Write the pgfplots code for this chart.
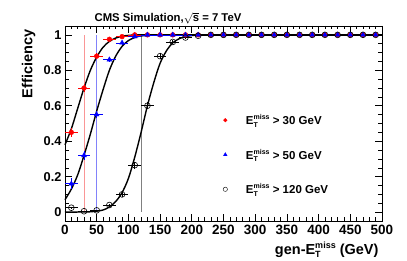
\documentclass[border=0pt]{standalone}
\usepackage{pgfplots}
\pgfplotsset{compat=1.18}
\usepackage{fontspec}
\setmainfont{Liberation Sans}
\definecolor{rootred}{RGB}{255,0,0}
\definecolor{rootblue}{RGB}{0,0,255}
\definecolor{pinkl}{RGB}{250,150,150}
\definecolor{bluel}{RGB}{130,130,250}
\newcommand{\met}[1][7]{E\rlap{\raisebox{-0.42ex}{\fontsize{#1}{#1}\selectfont T}}\raisebox{0.82ex}{\fontsize{#1}{#1}\selectfont miss}}
\begin{document}
\begin{tikzpicture}
\begin{axis}[
  scale only axis, width=317pt, height=195pt,
  xmin=0, xmax=500, ymin=-0.05, ymax=1.05,
  axis line style={line width=0.8pt},
  xtick={0,50,...,500}, minor x tick num=4,
  ytick={0,0.2,0.4,0.6,0.8,1}, yticklabels={0,0.2,0.4,0.6,0.8,1},
  minor y tick num=3,
  tick align=inside, tick pos=both,
  major tick length=7pt, minor tick length=3.5pt,
  every tick/.style={black, line width=0.6pt},
  tick label style={font=\fontsize{13.5}{14}\selectfont\bfseries},
  yticklabel style={font=\fontsize{12.8}{13}\selectfont\bfseries, xshift=0pt},
  /pgf/number format/assume math mode=true,
  xticklabel style={yshift=-1pt},
  xlabel={gen-\met[9]\ (GeV)},
  xlabel style={font=\fontsize{14.5}{15}\selectfont\bfseries, at={(axis description cs:1,0)}, anchor=north east, yshift=-17pt},
  ylabel={Efficiency},
  ylabel style={font=\fontsize{14.5}{15}\selectfont\bfseries, at={(axis description cs:0,1)}, anchor=south east, yshift=26pt},
  legend style={at={(axis cs:243,0.575)}, anchor=north west, draw=none, fill=none,
    font=\fontsize{11.5}{12}\selectfont\bfseries, row sep=19pt, cells={anchor=west}},
  legend cell align=left,
  legend image code/.code={\path (0cm,0cm) (0.75cm,0cm); \draw[#1, mark options={scale=0.75}] plot coordinates {(0.1cm,0cm)};},
  clip=false,
]
% vertical lines
\addplot[pinkl, line width=1pt, forget plot] coordinates {(30,0) (30,1)};
\addplot[bluel, line width=1pt, forget plot] coordinates {(50,0) (50,1)};
\addplot[gray, line width=1pt, forget plot] coordinates {(120,0) (120,1)};
% fit curves
\addplot[black, line width=1.4pt, smooth, forget plot] coordinates {
(0,0.38)(10,0.47)(20,0.585)(30,0.70)(40,0.80)(50,0.875)(60,0.93)(70,0.963)(80,0.982)(90,0.992)(100,0.997)(120,1)(200,1)(500,1)};
\addplot[black, line width=1.4pt, smooth, forget plot] coordinates {
(0,0.07)(10,0.13)(20,0.21)(30,0.32)(40,0.44)(50,0.57)(60,0.69)(70,0.80)(80,0.88)(90,0.935)(100,0.968)(110,0.985)(120,0.994)(140,0.999)(160,1)(250,1)(500,1)};
\addplot[black, line width=1.4pt, smooth, forget plot] coordinates {
(0,0)(40,0.002)(60,0.012)(70,0.03)(80,0.06)(90,0.11)(100,0.19)(110,0.31)(120,0.45)(130,0.60)(140,0.73)(150,0.84)(160,0.91)(170,0.955)(180,0.978)(190,0.99)(200,0.996)(220,1)(300,1)(500,1)};
% data
\addplot[only marks, rootred, mark=*, mark size=2.4pt,
  error bars/.cd, x dir=both, x explicit, y dir=both, y explicit,
  error bar style={rootred, line width=0.6pt}, error mark=none] coordinates {
(10,0.45) +- (10,0.025) (30,0.70) +- (10,0.02) (50,0.88) +- (10,0.015) (70,0.975) +- (10,0.01) (90,0.99) +- (10,0.005)
(110,1) +- (10,0) (130,1) +- (10,0) (150,1) +- (10,0) (170,1) +- (10,0) (190,1) +- (10,0) (210,1) +- (10,0)
(230,1) +- (10,0) (250,1) +- (10,0) (270,1) +- (10,0) (290,1) +- (10,0) (310,1) +- (10,0) (330,1) +- (10,0)
(350,1) +- (10,0) (370,1) +- (10,0) (390,1) +- (10,0) (410,1) +- (10,0) (430,1) +- (10,0) (450,1) +- (10,0)
(470,1) +- (10,0) (490,1) +- (10,0)};
\addlegendentry{\met\ > 30 GeV}
\addplot[only marks, rootblue, mark=triangle*, mark size=2.8pt,
  error bars/.cd, x dir=both, x explicit, y dir=both, y explicit,
  error bar style={rootblue, line width=0.6pt}, error mark=none] coordinates {
(10,0.16) +- (10,0.03) (30,0.32) +- (10,0.025) (50,0.55) +- (10,0.02) (70,0.86) +- (10,0.015) (90,0.955) +- (10,0.01)
(110,0.99) +- (10,0.005) (130,1) +- (10,0) (150,1) +- (10,0) (170,1) +- (10,0) (190,1) +- (10,0) (210,1) +- (10,0)
(230,1) +- (10,0) (250,1) +- (10,0) (270,1) +- (10,0) (290,1) +- (10,0) (310,1) +- (10,0) (330,1) +- (10,0)
(350,1) +- (10,0) (370,1) +- (10,0) (390,1) +- (10,0) (410,1) +- (10,0) (430,1) +- (10,0) (450,1) +- (10,0)
(470,1) +- (10,0) (490,1) +- (10,0)};
\addlegendentry{\met\ > 50 GeV}
\addplot[only marks, black, mark=o, mark size=2.9pt, mark options={line width=0.6pt, fill=white},
  error bars/.cd, x dir=both, x explicit, y dir=both, y explicit,
  error bar style={black, line width=0.6pt}, error mark=none] coordinates {
(10,0.025) +- (10,0.005) (30,0.005) +- (10,0.003) (50,0.01) +- (10,0.003) (70,0.04) +- (10,0.008) (90,0.10) +- (10,0.012)
(110,0.265) +- (10,0.02) (130,0.60) +- (10,0.02) (150,0.88) +- (10,0.015) (170,0.96) +- (10,0.01) (190,0.985) +- (10,0.005)
(210,0.995) +- (10,0.003) (230,1) +- (10,0) (250,1) +- (10,0) (270,1) +- (10,0) (290,1) +- (10,0) (310,1) +- (10,0) (330,1) +- (10,0)
(350,1) +- (10,0) (370,1) +- (10,0) (390,1) +- (10,0) (410,1) +- (10,0) (430,1) +- (10,0) (450,1) +- (10,0)
(470,1) +- (10,0) (490,1) +- (10,0)};
\addlegendentry{\met\ > 120 GeV}
\node[anchor=base, inner sep=0pt, font=\fontsize{11.3}{12}\selectfont\bfseries]
  at (rel axis cs:0.325,1) [yshift=4.5pt] {CMS Simulation,$\sqrt{\mbox{s}}$ = 7 TeV};
\end{axis}
\pgfresetboundingbox
\path (-65pt,-40pt) rectangle (342pt,221pt);
\end{tikzpicture}
\end{document}
